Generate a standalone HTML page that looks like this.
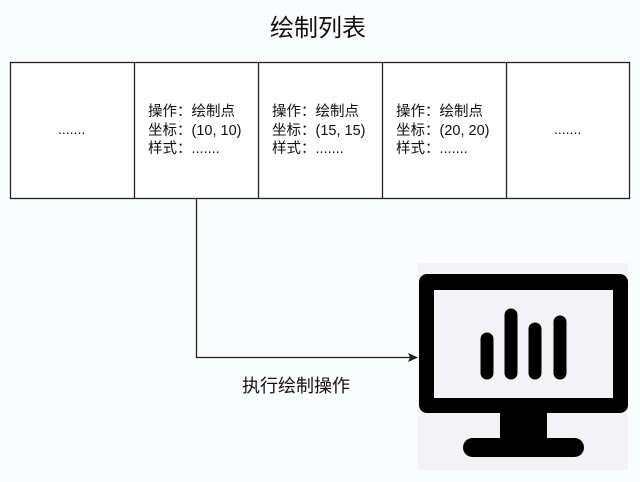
<!DOCTYPE html>
<html><head><meta charset="utf-8"><style>
body{margin:0;width:640px;height:482px;background:#fbfcfe;position:relative;overflow:hidden;font-family:"Liberation Sans","Noto Sans CJK SC",sans-serif;color:#111}
.t{position:absolute;white-space:nowrap}
.cell{position:absolute;top:103px;font-size:14.5px;line-height:18.5px}
</style></head><body>
<div class="t" style="left:270px;top:8px;font-size:24px">绘制列表</div>
<svg width="640" height="482" style="position:absolute;left:0;top:0">
<rect x="10.5" y="62.5" width="619" height="136" fill="#fff" stroke="#222" stroke-width="1.3"/>
<line x1="134.5" y1="62" x2="134.5" y2="198" stroke="#222" stroke-width="1.3"/>
<line x1="258.5" y1="62" x2="258.5" y2="198" stroke="#222" stroke-width="1.3"/>
<line x1="382.5" y1="62" x2="382.5" y2="198" stroke="#222" stroke-width="1.3"/>
<line x1="506.5" y1="62" x2="506.5" y2="198" stroke="#222" stroke-width="1.3"/>
<polyline points="196.5,198 196.5,357.5 410,357.5" fill="none" stroke="#222" stroke-width="1.3"/>
<polygon points="418,357.5 408,353 410,357.5 408,362" fill="#222"/>
<rect x="418" y="263" width="210" height="207" fill="#f3f3f5"/>
<rect x="419" y="274" width="209" height="139" rx="8" fill="#000"/>
<rect x="434" y="290" width="179" height="108" fill="#f3f3f5"/>
<rect x="500" y="410" width="47" height="32" fill="#000"/>
<rect x="463" y="438" width="121" height="19" rx="9.5" fill="#000"/>
<g stroke="#000" stroke-width="13" stroke-linecap="round">
<line x1="487" y1="339" x2="487" y2="373"/>
<line x1="511" y1="315" x2="511" y2="373"/>
<line x1="535" y1="329" x2="535" y2="373"/>
<line x1="560" y1="322" x2="560" y2="373"/>
</g>
</svg>
<div class="t" style="left:58px;top:121px;font-size:14px">.......</div>
<div class="t" style="left:554px;top:121px;font-size:14px">.......</div>
<div class="t cell" style="left:148px">操作：绘制点<br>坐标：(10, 10)<br>样式：.......</div>
<div class="t cell" style="left:272px">操作：绘制点<br>坐标：(15, 15)<br>样式：.......</div>
<div class="t cell" style="left:396px">操作：绘制点<br>坐标：(20, 20)<br>样式：.......</div>
<div class="t" style="left:242px;top:372px;font-size:18px">执行绘制操作</div>
</body></html>
